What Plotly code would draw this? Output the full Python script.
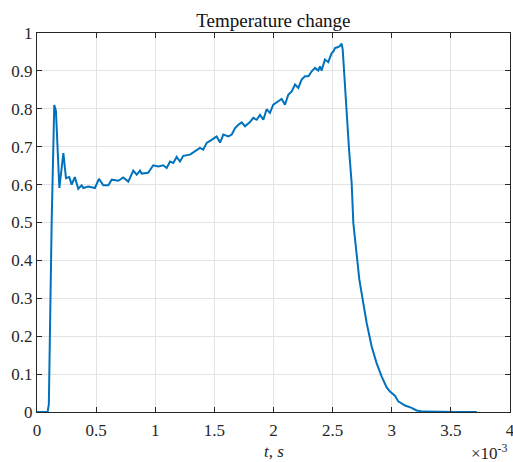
import plotly.graph_objects as go

# time in units of 1e-3 s
t = [0, 0.09, 0.10, 0.124, 0.146, 0.16, 0.189, 0.223, 0.245, 0.273, 0.293, 0.32, 0.349, 0.378,
     0.392, 0.434, 0.49, 0.524, 0.561, 0.603, 0.632, 0.688, 0.73, 0.772, 0.814, 0.843, 0.871,
     0.885, 0.94, 0.983, 1.026, 1.068, 1.097, 1.125, 1.153, 1.181, 1.209, 1.237, 1.294, 1.336,
     1.378, 1.406, 1.435, 1.477, 1.519, 1.548, 1.576, 1.618, 1.647, 1.675, 1.703, 1.731, 1.759,
     1.801, 1.829, 1.858, 1.886, 1.914, 1.942, 1.970, 1.998, 2.041, 2.069, 2.097, 2.125, 2.154,
     2.182, 2.210, 2.238, 2.266, 2.295, 2.323, 2.351, 2.379, 2.393, 2.407, 2.435, 2.463, 2.492,
     2.506, 2.520, 2.548, 2.562, 2.576, 2.585, 2.639, 2.661, 2.675, 2.698, 2.726, 2.759, 2.788,
     2.830, 2.872, 2.914, 2.957, 2.985, 3.027, 3.055, 3.112, 3.168, 3.21, 3.267, 3.40, 3.55, 3.72]
temp = [0, 0, 0.02, 0.50, 0.81, 0.795, 0.591, 0.683, 0.617, 0.62, 0.60, 0.62, 0.589, 0.598,
        0.591, 0.595, 0.591, 0.615, 0.598, 0.598, 0.613, 0.61, 0.619, 0.608, 0.637, 0.626, 0.637,
        0.629, 0.631, 0.651, 0.648, 0.651, 0.644, 0.661, 0.657, 0.673, 0.661, 0.676, 0.679, 0.688,
        0.697, 0.692, 0.71, 0.718, 0.727, 0.711, 0.732, 0.727, 0.732, 0.749, 0.758, 0.764, 0.754,
        0.765, 0.776, 0.771, 0.784, 0.771, 0.799, 0.789, 0.811, 0.820, 0.826, 0.811, 0.837, 0.846,
        0.864, 0.855, 0.877, 0.886, 0.886, 0.899, 0.908, 0.901, 0.912, 0.901, 0.930, 0.923, 0.947,
        0.951, 0.960, 0.963, 0.966, 0.972, 0.957, 0.692, 0.604, 0.499, 0.428, 0.349, 0.288, 0.235,
        0.173, 0.129, 0.094, 0.065, 0.054, 0.043, 0.028, 0.017, 0.011, 0.004, 0.001, 0.0, 0.0, 0.0]

x_ticks = [0, 0.5, 1, 1.5, 2, 2.5, 3, 3.5, 4]
y_ticks = [0, 0.1, 0.2, 0.3, 0.4, 0.5, 0.6, 0.7, 0.8, 0.9, 1]

FONT = "Liberation Serif"
AX = "#262626"

fig = go.Figure()
fig.add_trace(go.Scatter(x=t, y=temp, mode="lines",
                         line=dict(color="#0072BD", width=2), showlegend=False))

axis_common = dict(showline=True, linecolor=AX, linewidth=1, mirror="ticks",
                   ticks="inside", ticklen=5, tickcolor=AX, tickwidth=1,
                   showgrid=True, gridcolor="#e3e3e3", gridwidth=1, zeroline=False,
                   automargin=False, ticklabeloverflow="allow",
                   tickfont=dict(family=FONT, size=17, color=AX))

fig.update_xaxes(range=[0, 4], tickvals=x_ticks, ticktext=[f"{v:g}" for v in x_ticks],
                 ticklabelstandoff=3, **axis_common)
fig.update_yaxes(range=[0, 1], tickvals=y_ticks, ticktext=[f"{v:g}" for v in y_ticks],
                 **axis_common)

fig.update_layout(
    width=513, height=462,
    margin=dict(l=37, r=3, t=33, b=50),
    font=dict(family=FONT, size=17, color=AX),
    paper_bgcolor="white", plot_bgcolor="white",
    title=dict(text="Temperature change", x=0.533, xanchor="center",
               y=1 - 20 / 462, yanchor="middle",
               font=dict(family=FONT, size=19, color="#111")),
    annotations=[
        dict(text="<i>t</i>, <i>s</i>", xref="paper", yref="paper", x=0.5, y=-39 / 379,
             xanchor="center", yanchor="middle", showarrow=False,
             font=dict(family=FONT, size=17, color=AX)),
        dict(text="×10<sup>-3</sup>", xref="paper", yref="paper", x=1.0, y=-40 / 379,
             xanchor="right", yanchor="middle", showarrow=False,
             font=dict(family=FONT, size=17, color=AX)),
    ],
)

fig.write_html("out.html", config={"displayModeBar": False},
               post_script="document.body.style.margin='0';")
